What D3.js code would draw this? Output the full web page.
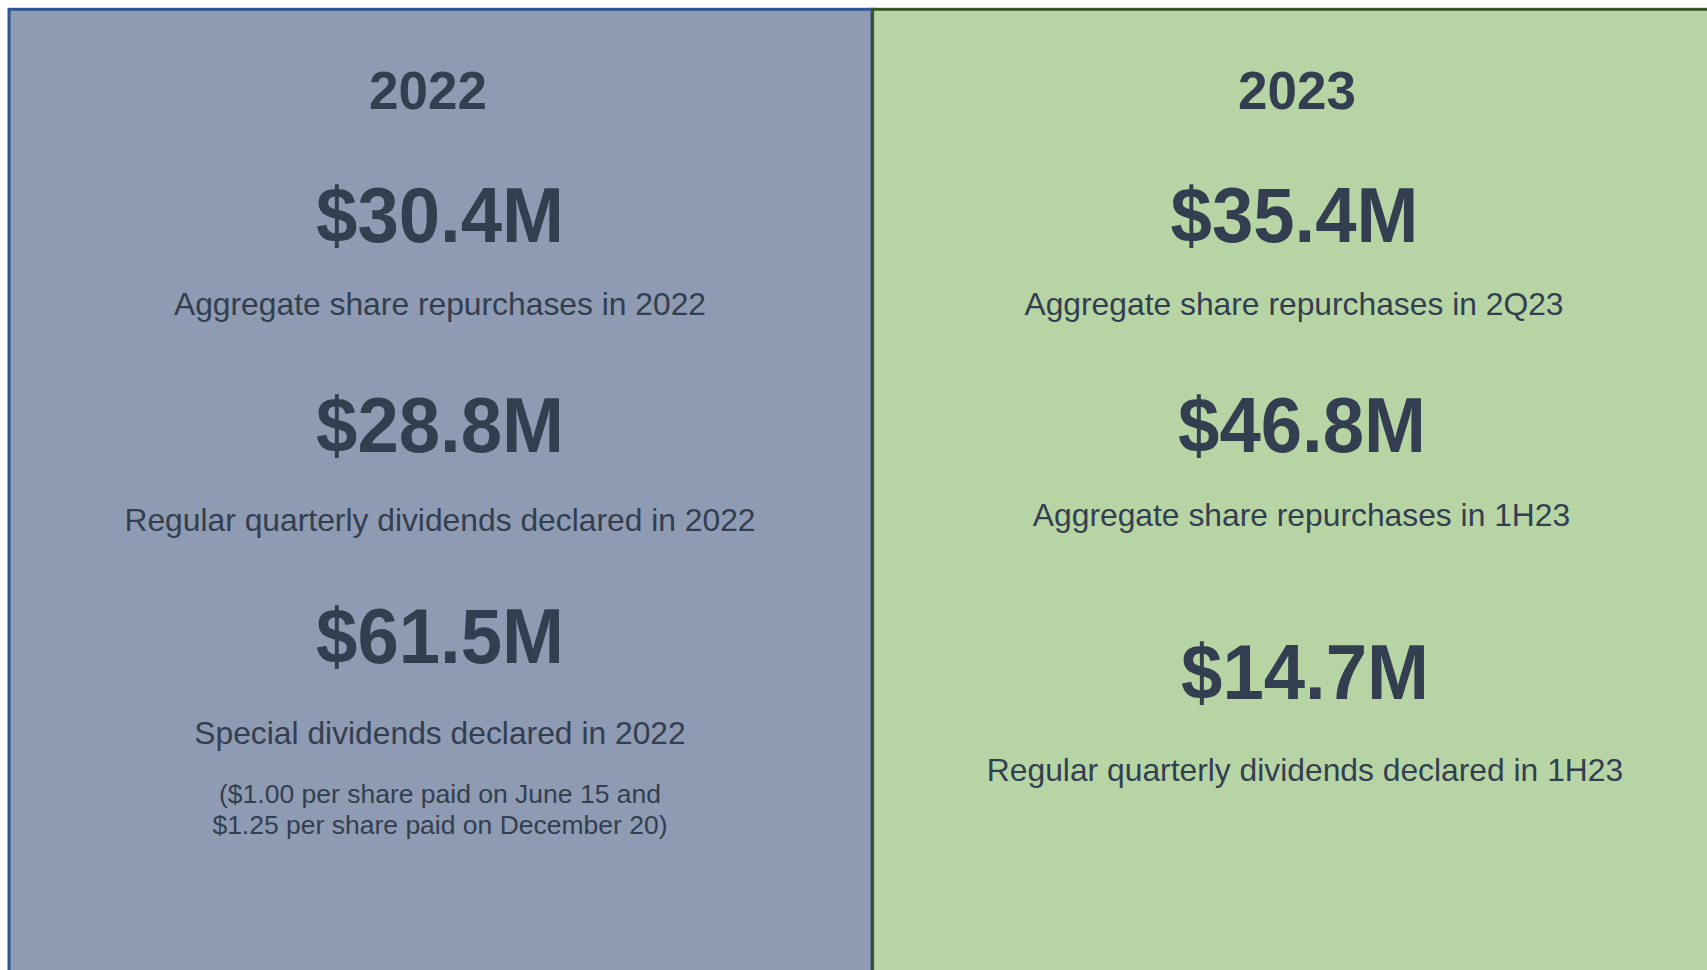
<!DOCTYPE html>
<html>
<head>
<meta charset="utf-8">
<script src="https://cdn.jsdelivr.net/npm/d3@7"></script>
<style>
	html, body { margin: 0; padding: 0; background: #fff; overflow: hidden; }
	svg { display: block; font-family: 'Liberation Sans', Arial, sans-serif; }
</style>
</head>
<body>
<svg id="chart"></svg>
<script>
// values
const years = ['2022', '2023'];
const amounts2022 = ['$30.4M', '$28.8M', '$61.5M'];
const labels2022 = [
	'Aggregate share repurchases in 2022',
	'Regular quarterly dividends declared in 2022',
	'Special dividends declared in 2022'
];
const note2022 = [
	'($1.00 per share paid on June 15 and',
	'$1.25 per share paid on December 20)'
];
const amounts2023 = ['$35.4M', '$46.8M', '$14.7M'];
const labels2023 = [
	'Aggregate share repurchases in 2Q23',
	'Aggregate share repurchases in 1H23',
	'Regular quarterly dividends declared in 1H23'
];

const WIDTH = 1707;
const HEIGHT = 970;
const TEXT = '#333f50';
const BIG_SCALE = 0.965;

// layout of each panel (not data)
const panels = [
	{
		year: years[0], amounts: amounts2022, labels: labels2022, note: note2022,
		x: 9, fill: '#8e9bb2', stroke: '#2f5597', titleX: 428,
		amountX: [440, 440, 440], amountY: [242, 452, 663],
		labelX: [440, 440, 440], labelY: [315, 531, 744]
	},
	{
		year: years[1], amounts: amounts2023, labels: labels2023, note: [],
		x: 872.6, fill: '#b7d5a4', stroke: '#375623', titleX: 1297,
		amountX: [1294.5, 1302, 1305], amountY: [242, 452, 699],
		labelX: [1294, 1301.5, 1305], labelY: [315, 526, 781]
	}
];

const $svg = d3.select('#chart').attr('width', WIDTH).attr('height', HEIGHT);

const $panel = $svg
	.selectAll('.panel')
	.data(panels)
	.enter()
	.append('g')
	.attr('class', 'panel');

$panel
	.append('rect')
	.attr('x', d => d.x)
	.attr('y', 9.3)
	.attr('width', 863)
	.attr('height', HEIGHT)
	.attr('fill', d => d.fill)
	.attr('stroke', d => d.stroke)
	.attr('stroke-width', 3);

$panel
	.append('text')
	.attr('x', d => d.titleX)
	.attr('y', 109)
	.attr('text-anchor', 'middle')
	.attr('font-size', 53)
	.attr('font-weight', 'bold')
	.attr('fill', TEXT)
	.text(d => d.year);

$panel.each(function(p) {
	const $p = d3.select(this);

	$p.selectAll('.amount')
		.data(p.amounts)
		.enter()
		.append('text')
		.attr('class', 'amount')
		.attr('transform', (d, i) => `translate(${p.amountX[i]},${p.amountY[i]}) scale(${BIG_SCALE},1)`)
		.attr('text-anchor', 'middle')
		.attr('font-size', 77)
		.attr('font-weight', 'bold')
		.attr('fill', TEXT)
		.text(d => d);

	$p.selectAll('.label')
		.data(p.labels)
		.enter()
		.append('text')
		.attr('class', 'label')
		.attr('x', (d, i) => p.labelX[i])
		.attr('y', (d, i) => p.labelY[i])
		.attr('text-anchor', 'middle')
		.attr('font-size', 31.8)
		.attr('fill', TEXT)
		.text(d => d);

	$p.selectAll('.note')
		.data(p.note)
		.enter()
		.append('text')
		.attr('class', 'note')
		.attr('x', 440)
		.attr('y', (d, i) => 803 + i * 30.5)
		.attr('text-anchor', 'middle')
		.attr('font-size', 26.5)
		.attr('fill', TEXT)
		.text(d => d);
});
</script>
</body>
</html>
